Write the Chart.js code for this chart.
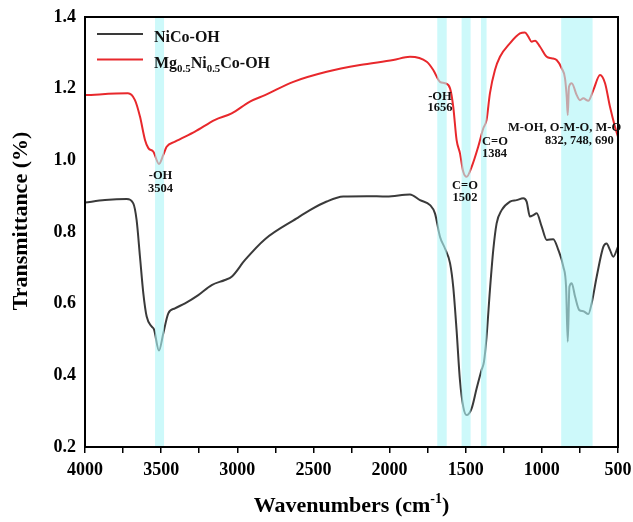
<!DOCTYPE html>
<html>
<head>
<meta charset="utf-8">
<script src="https://cdn.jsdelivr.net/npm/chart.js@4.4.1/dist/chart.umd.min.js"></script>
<style>
  html, body { margin: 0; padding: 0; background: #fff; }
  #wrap { width: 633px; height: 522px; }
</style>
</head>
<body>
<div id="wrap"><canvas id="ftirChart" width="633" height="522"></canvas></div>
<script>
// FTIR spectra, wavenumber (cm-1) vs transmittance

const nicoWave = [4000, 3869, 3726, 3683, 3661, 3639, 3617, 3595, 3562, 3547, 3514, 3486, 3453, 3409, 3343, 3256, 3168, 3081, 3037, 2949, 2818, 2610, 2523, 2413, 2304, 2150, 2019, 1866, 1800, 1734, 1702, 1669, 1636, 1603, 1582, 1560, 1538, 1516, 1494, 1461, 1428, 1396, 1380, 1363, 1341, 1319, 1297, 1264, 1209, 1166, 1122, 1100, 1078, 1056, 1034, 1001, 968, 925, 892, 859, 841, 830, 819, 804, 782, 754, 728, 695, 673, 640, 596, 575, 553, 531, 500];
const nicoTrans = [0.882, 0.889, 0.892, 0.880, 0.833, 0.731, 0.629, 0.564, 0.536, 0.528, 0.469, 0.517, 0.573, 0.587, 0.601, 0.624, 0.652, 0.666, 0.675, 0.722, 0.780, 0.838, 0.861, 0.885, 0.899, 0.900, 0.899, 0.905, 0.889, 0.875, 0.852, 0.787, 0.754, 0.713, 0.647, 0.526, 0.387, 0.312, 0.289, 0.308, 0.364, 0.415, 0.438, 0.508, 0.638, 0.750, 0.824, 0.861, 0.885, 0.889, 0.894, 0.885, 0.843, 0.847, 0.852, 0.815, 0.778, 0.780, 0.750, 0.703, 0.647, 0.494, 0.647, 0.657, 0.620, 0.582, 0.579, 0.571, 0.601, 0.675, 0.759, 0.768, 0.750, 0.731, 0.759];

const mgWave = [4000, 3718, 3672, 3639, 3606, 3584, 3551, 3514, 3486, 3464, 3409, 3278, 3146, 3037, 2917, 2818, 2632, 2413, 2194, 1976, 1866, 1756, 1713, 1669, 1636, 1603, 1582, 1560, 1538, 1516, 1494, 1461, 1418, 1385, 1363, 1341, 1308, 1275, 1209, 1144, 1111, 1089, 1067, 1045, 1012, 968, 936, 903, 870, 848, 837, 830, 822, 804, 771, 750, 728, 695, 662, 618, 585, 553, 520, 500];
const mgTrans = [1.182, 1.187, 1.168, 1.122, 1.057, 1.034, 1.024, 0.990, 1.015, 1.038, 1.052, 1.080, 1.113, 1.131, 1.164, 1.182, 1.219, 1.247, 1.266, 1.280, 1.289, 1.275, 1.252, 1.219, 1.215, 1.201, 1.150, 1.057, 1.020, 0.968, 0.954, 0.982, 1.038, 1.089, 1.113, 1.187, 1.252, 1.289, 1.327, 1.354, 1.357, 1.345, 1.331, 1.334, 1.317, 1.289, 1.285, 1.280, 1.257, 1.229, 1.178, 1.126, 1.205, 1.215, 1.182, 1.168, 1.173, 1.166, 1.196, 1.238, 1.215, 1.150, 1.094, 1.066];

// highlighted absorption bands [from, to] in cm-1
const bandStart = [3540, 1687, 1527, 1400, 873];
const bandEnd = [3481, 1625, 1468, 1363, 667];

const xTicks = [4000, 3500, 3000, 2500, 2000, 1500, 1000, 500];
const yTicks = [0.2, 0.4, 0.6, 0.8, 1.0, 1.2, 1.4];

const seriesNames = ["NiCo-OH", "Mg0.5Ni0.5Co-OH"];

const SERIF = "'Liberation Serif', 'Times New Roman', serif";

function toPoints(xs, ys) {
  return xs.map((x, i) => ({ x: x, y: ys[i] }));
}

// text with subscript runs, e.g. Mg_{0.5}
function drawRich(ctx, parts, x, y, size) {
  let cx = x;
  parts.forEach(p => {
    const s = p.sub ? size * 0.68 : size;
    ctx.font = "bold " + s + "px " + SERIF;
    ctx.fillText(p.t, cx, p.sub ? y + size * 0.3 : y);
    cx += ctx.measureText(p.t).width;
  });
}

const bandPlugin = {
  id: "bands",
  afterDatasetsDraw(chart) {
    const { ctx, chartArea, scales } = chart;
    ctx.save();
    ctx.fillStyle = "rgba(175,245,247,0.62)";
    bandStart.forEach((b, i) => {
      const x1 = scales.x.getPixelForValue(b);
      const x2 = scales.x.getPixelForValue(bandEnd[i]);
      ctx.fillRect(x1, chartArea.top, x2 - x1, chartArea.bottom - chartArea.top);
    });
    ctx.restore();
  }
};

const decorPlugin = {
  id: "decor",
  afterDraw(chart) {
    const { ctx, chartArea, scales } = chart;
    const xs = scales.x, ys = scales.y;
    ctx.save();

    // frame
    ctx.strokeStyle = "#000";
    ctx.lineWidth = 2;
    ctx.strokeRect(chartArea.left, chartArea.top, chartArea.right - chartArea.left, chartArea.bottom - chartArea.top);

    // peak assignments
    ctx.fillStyle = "#111";
    ctx.textBaseline = "middle";
    ctx.font = "bold 12.5px " + SERIF;
    const notes = [
      ["-OH", 3504, 0.957, "center"],
      ["3504", 3504, 0.922, "center"],
      ["-OH", 1669, 1.178, "center"],
      ["1656", 1669, 1.146, "center"],
      ["C=O", 1393, 1.052, "left"],
      ["1384", 1393, 1.018, "left"],
      ["C=O", 1505, 0.928, "center"],
      ["1502", 1505, 0.896, "center"],
      ["M-OH, O-M-O, M-O", 1222, 1.092, "left"],
      ["832, 748, 690", 979, 1.055, "left"]
    ];
    notes.forEach(n => {
      ctx.textAlign = n[3];
      ctx.fillText(n[0], xs.getPixelForValue(n[1]), ys.getPixelForValue(n[2]));
    });

    // legend
    const lx = chartArea.left + 12, ly = chartArea.top + 17;
    const colors = chart.data.datasets.map(d => d.borderColor);
    ctx.lineWidth = 2.2;
    [0, 1].forEach(i => {
      ctx.strokeStyle = colors[i];
      ctx.beginPath();
      ctx.moveTo(lx, ly + i * 25.5);
      ctx.lineTo(lx + 46, ly + i * 25.5);
      ctx.stroke();
    });
    ctx.fillStyle = "#111";
    ctx.textAlign = "left";
    ctx.textBaseline = "alphabetic";
    drawRich(ctx, [{ t: seriesNames[0] }], lx + 57, ly + 8, 16);
    drawRich(ctx, [{ t: "Mg" }, { t: "0.5", sub: true }, { t: "Ni" }, { t: "0.5", sub: true }, { t: "Co-OH" }], lx + 57, ly + 33.5, 16);

    // x axis title with superscript
    ctx.fillStyle = "#000";
    ctx.font = "bold 22px " + SERIF;
    const w0 = ctx.measureText("Wavenumbers (cm").width;
    const wp = ctx.measureText(")").width;
    ctx.font = "bold 14px " + SERIF;
    const w1 = ctx.measureText("-1").width;
    const x0 = (chartArea.left + chartArea.right) / 2 - (w0 + w1 + wp) / 2;
    ctx.fillText("-1", x0 + w0, 503);
    ctx.font = "bold 22px " + SERIF;
    ctx.fillText("Wavenumbers (cm", x0, 512);
    ctx.fillText(")", x0 + w0 + w1, 512);

    // y axis title
    ctx.translate(21, 221);
    ctx.rotate(-Math.PI / 2);
    ctx.textAlign = "center";
    ctx.textBaseline = "middle";
    ctx.fillText("Transmittance (%)", 0, 0);
    ctx.restore();
  }
};

const ctx = document.getElementById("ftirChart");
new Chart(ctx, {
  type: "line",
  data: {
    datasets: [
      {
        label: seriesNames[0],
        data: toPoints(nicoWave, nicoTrans),
        borderColor: "#3a3a3a",
        borderWidth: 2,
        pointRadius: 0,
        cubicInterpolationMode: "monotone"
      },
      {
        label: seriesNames[1],
        data: toPoints(mgWave, mgTrans),
        borderColor: "#e8282c",
        borderWidth: 2,
        pointRadius: 0,
        cubicInterpolationMode: "monotone"
      }
    ]
  },
  options: {
    responsive: false,
    animation: false,
    events: [],
    layout: { padding: { top: 17, right: 15, left: 0, bottom: 0 } },
    plugins: {
      legend: { display: false },
      tooltip: { enabled: false }
    },
    scales: {
      x: {
        type: "linear",
        reverse: true,
        min: 500,
        max: 4000,
        afterBuildTicks(scale) {
          const t = [];
          for (let v = 4000; v >= 500; v -= 250) t.push({ value: v });
          scale.ticks = t;
        },
        afterFit(scale) {
          // fixed axis band, no label overflow padding
          scale.height = 75;
          scale.paddingLeft = 0;
          scale.paddingRight = 0;
        },
        ticks: {
          autoSkip: false,
          maxRotation: 0,
          padding: 7,
          color: "#000",
          font: { family: SERIF, size: 18, weight: "bold" },
          callback: v => xTicks.includes(v) ? String(v) : ""
        },
        grid: { drawOnChartArea: false, drawTicks: true, tickLength: 6, color: "#000", lineWidth: 1.5 },
        border: { color: "#000", width: 2 }
      },
      y: {
        min: 0.2,
        max: 1.4,
        afterBuildTicks(scale) {
          scale.ticks = yTicks.map(v => ({ value: v }));
        },
        afterFit(scale) {
          scale.width = 85;
          scale.paddingTop = 0;
          scale.paddingBottom = 0;
        },
        ticks: {
          padding: 9,
          color: "#000",
          font: { family: SERIF, size: 18, weight: "bold" },
          callback: v => v.toFixed(1)
        },
        grid: { drawOnChartArea: false, drawTicks: false },
        border: { color: "#000", width: 2 }
      }
    }
  },
  plugins: [bandPlugin, decorPlugin]
});
</script>
</body>
</html>
